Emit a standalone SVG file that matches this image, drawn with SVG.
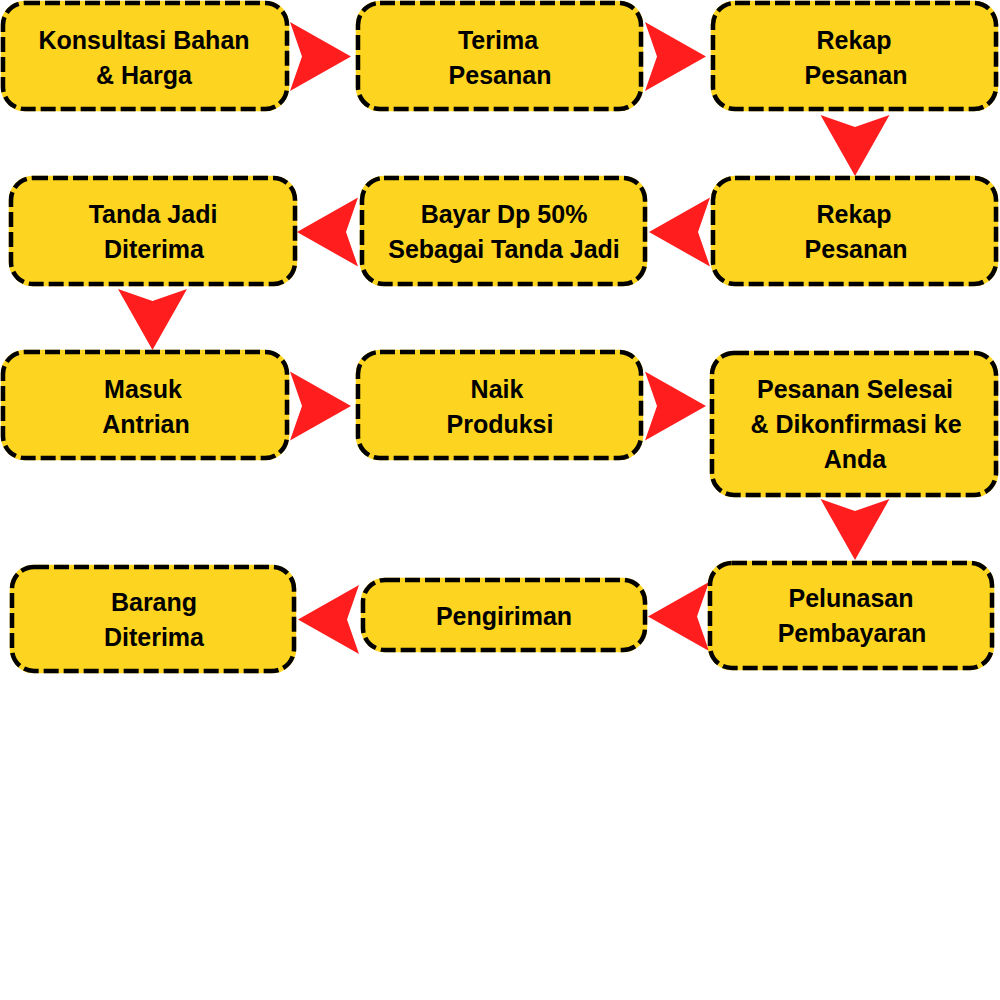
<svg xmlns="http://www.w3.org/2000/svg" xmlns:xlink="http://www.w3.org/1999/xlink" width="1000" height="1000" viewBox="0 0 1000 1000">
<style>
.bg{fill:#FDD41F;stroke:#FDD41F;stroke-width:4.5}
.bd{fill:none;stroke:#000;stroke-width:4.5;stroke-dasharray:15 5}
.t{font-family:"Liberation Sans",Arial,sans-serif;font-weight:bold;font-size:25px;fill:#000;text-anchor:middle}
.ar{fill:#FF1D1D}
</style>
<defs>
<path id="arrow" d="M0,-34.5 L61,0 L0,34.5 L12,0 Z"/>
</defs>
<rect width="1000" height="1000" fill="#fff"/>
<g id="connectors" class="ar">
<use xlink:href="#arrow" transform="translate(290,56.5)"/>
<use xlink:href="#arrow" transform="translate(645,56.5)"/>
<use xlink:href="#arrow" transform="translate(855,115) rotate(90)"/>
<use xlink:href="#arrow" transform="translate(710,232) rotate(180)"/>
<use xlink:href="#arrow" transform="translate(358,232) rotate(180)"/>
<use xlink:href="#arrow" transform="translate(152.5,289) rotate(90)"/>
<use xlink:href="#arrow" transform="translate(290,406)"/>
<use xlink:href="#arrow" transform="translate(645,406)"/>
<use xlink:href="#arrow" transform="translate(855,499) rotate(90)"/>
<use xlink:href="#arrow" transform="translate(709,616.5) rotate(180)"/>
<use xlink:href="#arrow" transform="translate(359,619.5) rotate(180)"/>
</g>
<g id="n1"><rect class="bg" x="3" y="3" width="284" height="106" rx="22"/><rect class="bd" x="3" y="3" width="284" height="106" rx="22"/><text class="t" x="144" y="49">Konsultasi Bahan</text><text class="t" x="144" y="84">&amp; Harga</text></g>
<g id="n2"><rect class="bg" x="358" y="3" width="283" height="106" rx="22"/><rect class="bd" x="358" y="3" width="283" height="106" rx="22"/><text class="t" x="498" y="49">Terima</text><text class="t" x="500" y="84">Pesanan</text></g>
<g id="n3"><rect class="bg" x="713" y="3" width="283" height="106" rx="22"/><rect class="bd" x="713" y="3" width="283" height="106" rx="22"/><text class="t" x="854" y="49">Rekap</text><text class="t" x="856" y="84">Pesanan</text></g>
<g id="n4"><rect class="bg" x="11" y="178" width="284" height="106" rx="22"/><rect class="bd" x="11" y="178" width="284" height="106" rx="22"/><text class="t" x="153" y="223">Tanda Jadi</text><text class="t" x="154" y="258">Diterima</text></g>
<g id="n5"><rect class="bg" x="362" y="178" width="283" height="106" rx="22"/><rect class="bd" x="362" y="178" width="283" height="106" rx="22"/><text class="t" x="504" y="223">Bayar Dp 50%</text><text class="t" x="504" y="258">Sebagai Tanda Jadi</text></g>
<g id="n6"><rect class="bg" x="713" y="178" width="283" height="106" rx="22"/><rect class="bd" x="713" y="178" width="283" height="106" rx="22"/><text class="t" x="854" y="223">Rekap</text><text class="t" x="856" y="258">Pesanan</text></g>
<g id="n7"><rect class="bg" x="3" y="352" width="284" height="106" rx="22"/><rect class="bd" x="3" y="352" width="284" height="106" rx="22"/><text class="t" x="143" y="398">Masuk</text><text class="t" x="146" y="433">Antrian</text></g>
<g id="n8"><rect class="bg" x="358" y="352" width="283" height="106" rx="22"/><rect class="bd" x="358" y="352" width="283" height="106" rx="22"/><text class="t" x="497" y="398">Naik</text><text class="t" x="500" y="433">Produksi</text></g>
<g id="n9"><rect class="bg" x="712" y="353" width="284" height="142" rx="22"/><rect class="bd" x="712" y="353" width="284" height="142" rx="22"/><text class="t" x="855" y="398">Pesanan Selesai</text><text class="t" x="856" y="433">&amp; Dikonfirmasi ke</text><text class="t" x="855" y="468">Anda</text></g>
<g id="n10"><rect class="bg" x="710" y="563" width="282" height="105" rx="22"/><rect class="bd" x="710" y="563" width="282" height="105" rx="22"/><text class="t" x="851" y="607">Pelunasan</text><text class="t" x="852" y="642">Pembayaran</text></g>
<g id="n11"><rect class="bg" x="363" y="580" width="282" height="70" rx="22"/><rect class="bd" x="363" y="580" width="282" height="70" rx="22"/><text class="t" x="504" y="625">Pengiriman</text></g>
<g id="n12"><rect class="bg" x="12" y="567" width="282" height="104" rx="22"/><rect class="bd" x="12" y="567" width="282" height="104" rx="22"/><text class="t" x="154" y="611">Barang</text><text class="t" x="154" y="646">Diterima</text></g>
</svg>
